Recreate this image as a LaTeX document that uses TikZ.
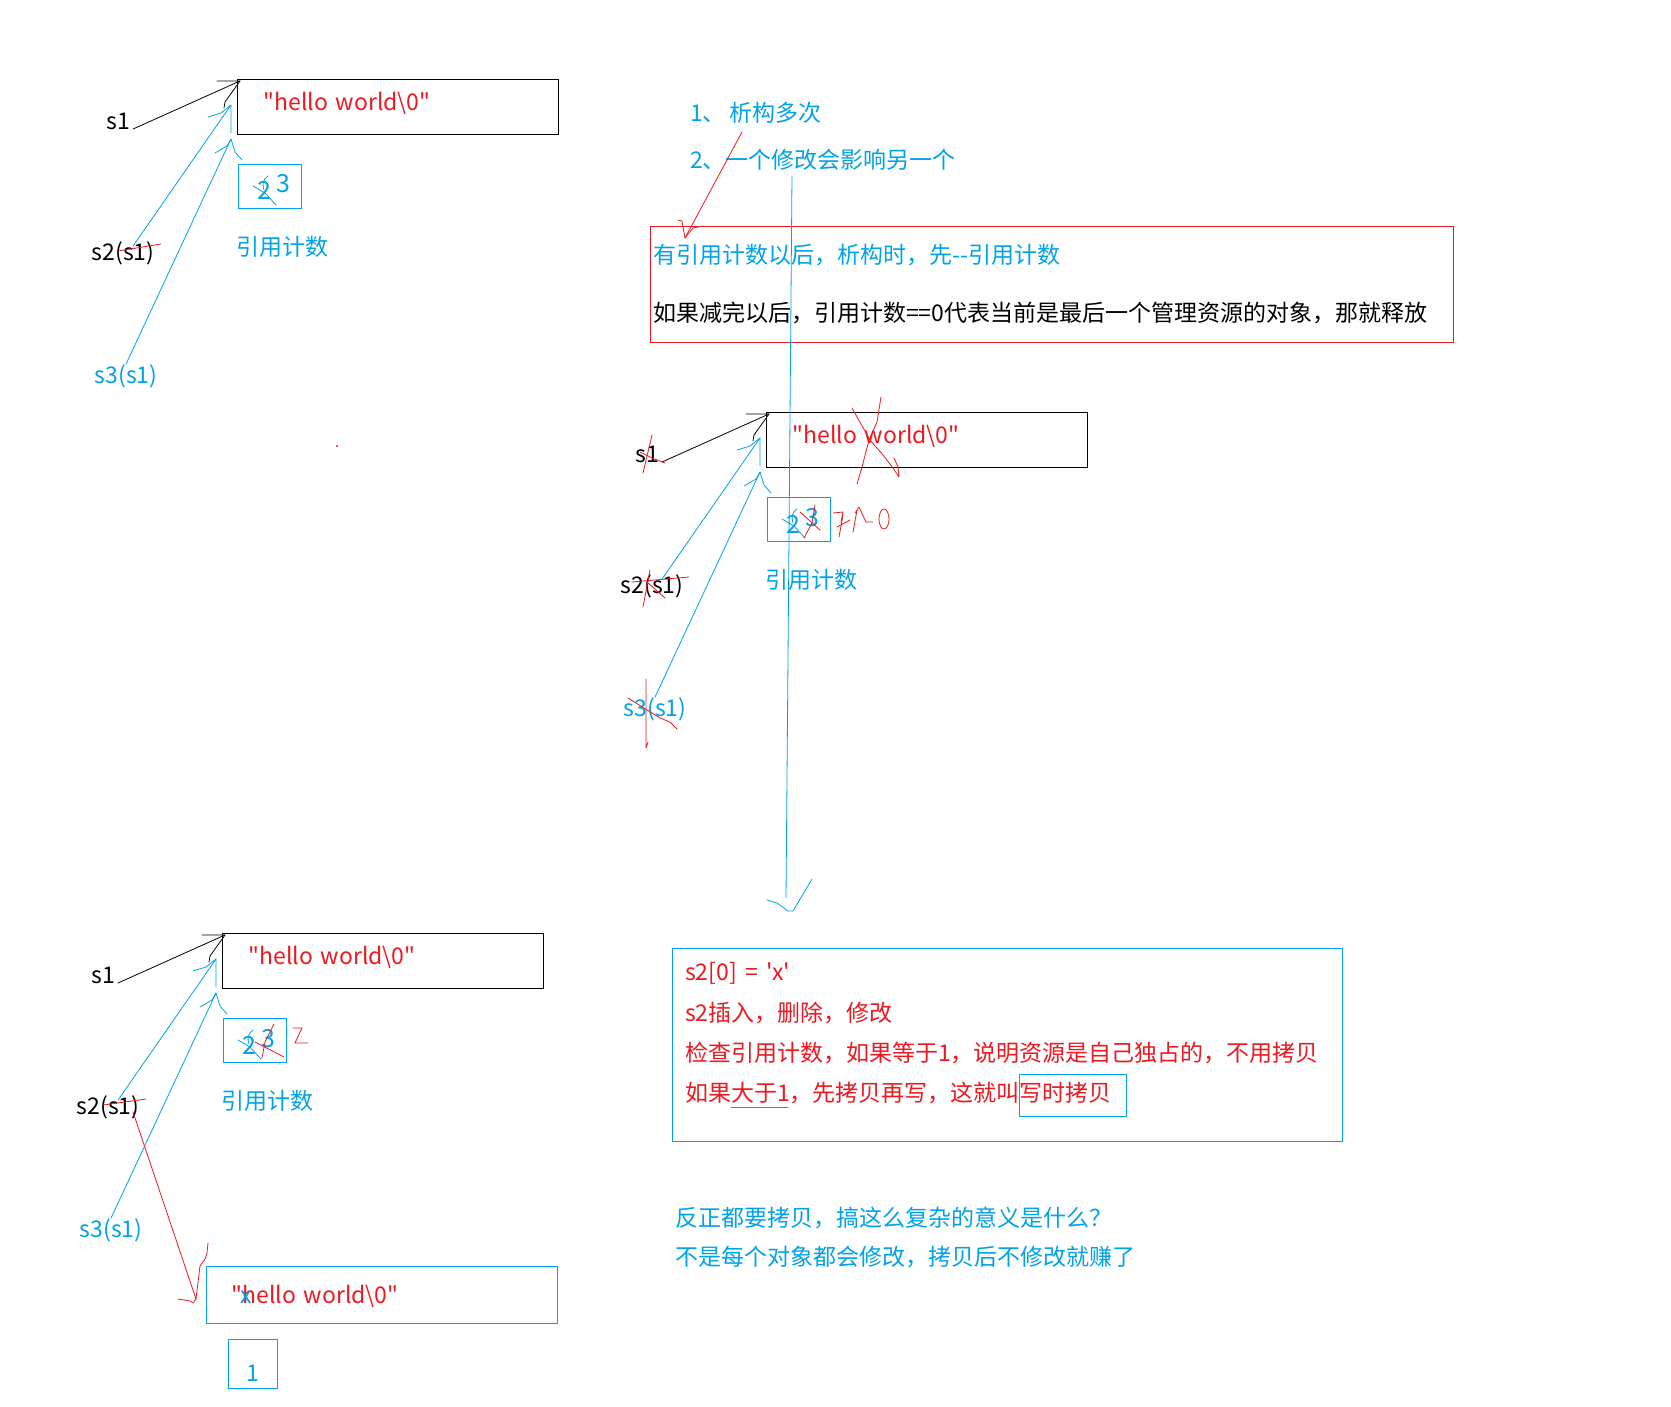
\documentclass[tikz,border=0pt]{standalone}
\usepackage{fontspec}
\setmainfont{Noto Sans CJK SC}[Ligatures=TeXOff]
\usepackage{xcolor}
\usepackage{tikz}
\usetikzlibrary{positioning}
\definecolor{skyblue}{RGB}{0,162,232}
\definecolor{hwred}{RGB}{238,24,32}
\newcommand\handfont{\fontsize{23}{28}\selectfont}
\newcommand\countfont{\fontsize{25}{30}\selectfont}
\tikzset{
  strbox/.style={draw, line width=1pt, anchor=north west, minimum width=321pt, minimum height=55pt, inner xsep=26pt, text width=269pt, align=left, text height=17pt, text depth=10pt, text=hwred, font=\handfont},
  cntbox/.style={draw=skyblue, line width=1pt, anchor=north west, minimum width=63pt, minimum height=44pt, inner sep=0pt, text height=27pt, text depth=0pt, text=skyblue, font=\countfont},
  framebox/.style={draw, line width=1pt, anchor=north west, inner sep=0pt},
  varlbl/.style={inner sep=0pt, font=\handfont},
  notetext/.style={anchor=west, inner sep=0pt, font=\handfont},
  blkline/.style={draw=black, line width=0.8pt, line cap=round, line join=round},
  blueline/.style={draw=skyblue, line width=0.8pt, line cap=round, line join=round},
  redline/.style={draw=hwred, line width=0.8pt, line cap=round, line join=round}
}
\begin{document}
\begin{tikzpicture}[x=1pt, y=-1pt]
\path[fill=white] (0,0) rectangle (1671,1407);
% three copies of s1 / s2(s1) / s3(s1) sharing one buffer
\foreach \g/\px/\py in {A/237/79, B/766/412, C/222/933}{
  \begin{scope}[shift={(\px,\py)}]
    \node[strbox] (str\g) at (0,0) {"hello world\textbackslash0"};
    \node[cntbox] (cnt\g) at (1,85) {\hspace{7pt}2\hspace{5pt}\raisebox{7pt}{3}};
    \node[varlbl] (sa\g) at (-119,42) {s1};
    \node[varlbl] (sb\g) at (-114,174) {s2(s1)};
    \node[varlbl, text=skyblue] (sc\g) at (-111,297) {s3(s1)};
    \node[varlbl, text=skyblue] (rc\g) at (45,168) {引用计数};
    \coordinate (pa\g) at (3,2);
    \coordinate (pb\g) at (-6,26);
    \coordinate (pc\g) at (-6,60);
    \draw[blkline] ([xshift=3pt]sa\g.base east) -- (pa\g);
    \draw[blkline] ([shift={(-23,0)}]pa\g) -- (pa\g) -- ++(-15,21) -- ++(-1,6);
    \draw[blueline] ([xshift=10pt,yshift=-5pt]sb\g.north) -- (pb\g);
    \draw[blueline] ([shift={(-23,12)}]pb\g) -- ++(13,-4) -- (pb\g) -- ++(0,28);
    \draw[blueline] (sc\g.north) -- (pc\g);
    \draw[blueline] ([shift={(-16,14)}]pc\g) -- ++(12,-7) -- (pc\g) -- ++(4,13) -- ++(7,8);
    % count corrected by hand
    \draw[blueline] (16,107) -- (28,114) -- (39,126);
    \draw[blueline] (31,97) .. controls (26,100) and (25,106) .. (27,111);
  \end{scope}
}
% marks on the first copy
\draw[redline] (118,251) -- (161,244);
\fill[hwred] (337,446) circle (1.2);
% marks on the second copy: everything released
\draw[redline] (652,435) -- (643,473);
\draw[redline] (640,452) -- (652,458) -- (665,463);
\draw[redline] (650,570) -- (643,607);
\draw[redline] (632,582) -- (689,577);
\draw[redline] (647,582) -- (665,598);
\draw[redline] (646,679) -- (646,748) -- (648,742);
\draw[redline] (628,698) -- (660,718) -- (670,722) -- (677,729);
\draw[redline] (881,397) -- (877,422) -- (869,440) -- (862,467) -- (857,484);
\draw[redline] (852,408) -- (870,440) -- (883,455) -- (893,468) -- (899,477) -- (898,467) -- (894,458);
\draw[redline] (815,505) -- (812,523) -- (804,538);
\draw[redline] (800,512) -- (820,530);
\draw[redline] (833,513) -- (843,512) -- (841,522);
\draw[redline] (843,515) -- (839,537);
\draw[redline] (837,527) -- (850,520);
\draw[redline] (855,513) -- (859,507) -- (866,522) -- (873,522);
\draw[redline] (857,510) -- (853,532);
\draw[redline] (884,519) ellipse (5 and 10);
% marks on the third copy
\draw[redline] (103,1105) -- (146,1099);
\draw[redline] (262,1058) -- (265,1042) -- (274,1024);
\draw[redline] (255,1042) -- (284,1057);
\draw[redline] (293,1028) -- (302,1028) -- (295,1043) -- (308,1043);
% the copy made for s2
\node[strbox, draw=skyblue, minimum width=351pt, minimum height=57pt, inner xsep=25pt, text width=301pt, text height=22pt, text depth=5pt] (strD) at (206,1266) {"hello world\textbackslash0"};
\node[varlbl, text=skyblue] (xfix) at (246,1297) {x};
\node[cntbox, minimum width=49pt, minimum height=49pt, text height=34pt, font=\handfont] (cntD) at (228,1339) {1};
\coordinate (copyTip) at ([shift={(-10,4)}]strD.west);
\draw[redline] ([shift={(25,5)}]sbC.center) -- (copyTip);
\draw[redline] ([shift={(-18,0)}]copyTip) -- ++(12,2) -- ++(3,2) -- (copyTip) -- ++(4,-33) -- ++(5,-7) -- ++(2,-6) -- ++(1,-10);
% notes on the right
\node[notetext, text=skyblue] (it1) at (690,113) {1、\hspace{4pt}析构多次};
\node[notetext, text=skyblue] (it2) at (690,160) {2、一个修改会影响另一个};
\node[framebox, draw=hwred, minimum width=803pt, minimum height=116pt] (rulebox) at (650,226) {};
\node[notetext, text=skyblue] (rl1) at (653,255) {有引用计数以后，析构时，先--引用计数};
\node[notetext] (rl2) at (653,313) {如果减完以后，引用计数==0代表当前是最后一个管理资源的对象，那就释放};
\coordinate (destrTip) at ([shift={(32,-17)}]rl1.west);
\draw[redline] ([shift={(52,19)}]it1.west) -- (destrTip);
\draw[redline] ([shift={(-7,-18)}]destrTip) -- ++(4,1) -- ++(1,6) -- (destrTip) -- ++(8,-10) -- ++(10,-2);
\node[framebox, draw=skyblue, minimum width=670pt, minimum height=193pt] (cowbox) at (672,948) {};
\node[notetext, text=hwred] (cw1) at (685,973) {s2[0]\hspace{3pt} = \hspace{3pt}'x'};
\node[notetext, text=hwred] (cw2) at (685,1013) {s2插入，删除，修改};
\node[notetext, text=hwred] (cw3) at (685,1053) {检查引用计数，如果等于1，说明资源是自己独占的，不用拷贝};
\node[notetext, text=hwred] (cw4) at (685,1093) {如果大于1，先拷贝再写，这就叫写时拷贝};
\draw[blueline] (731,1107) -- (788,1107);
\draw[blueline] (1019,1074) rectangle (1126,1116);
\coordinate (cowTip) at ([shift={(114,-50)}]cowbox.north west);
\draw[blueline] ([shift={(102,16)}]it2.west) -- (cowTip);
\draw[blueline] ([shift={(-19,2)}]cowTip) -- ++(10,3) -- ++(11,8) -- ++(5,0) -- ++(19,-32);
\node[notetext, text=skyblue] (q1) at (675,1218) {反正都要拷贝，搞这么复杂的意义是什么？};
\node[notetext, text=skyblue] (q2) at (675,1257) {不是每个对象都会修改，拷贝后不修改就赚了};
\end{tikzpicture}
\end{document}
